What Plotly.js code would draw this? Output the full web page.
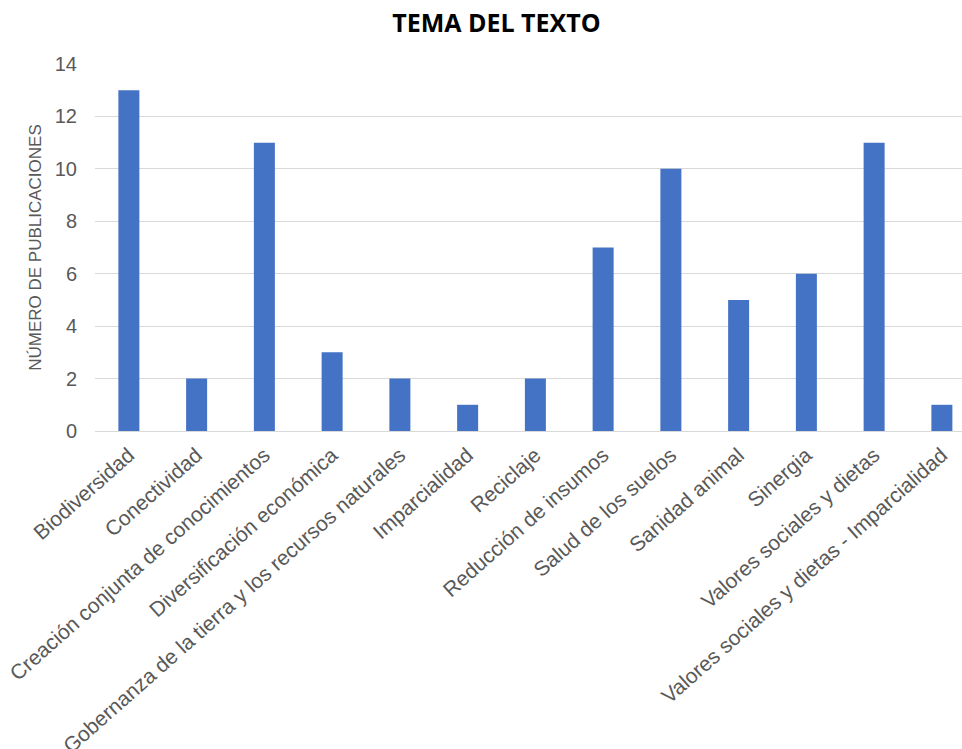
<!DOCTYPE html>
<html>
<head>
<meta charset="utf-8">
<script src="https://cdn.plot.ly/plotly-3.0.1.min.js"></script>
<style>
  html, body { margin: 0; padding: 0; background: #ffffff; }
  #chart { width: 962px; height: 749px; }
</style>
</head>
<body>
<div id="chart"></div>
<script>
// Topics of the reviewed texts and number of publications per topic
const categories = [
  "Biodiversidad",
  "Conectividad",
  "Creación conjunta de conocimientos",
  "Diversificación económica",
  "Gobernanza de la tierra y los recursos naturales",
  "Imparcialidad",
  "Reciclaje",
  "Reducción de insumos",
  "Salud de los suelos",
  "Sanidad animal",
  "Sinergia",
  "Valores sociales y dietas",
  "Valores sociales y dietas - Imparcialidad"
];
const publications = [13, 2, 11, 3, 2, 1, 2, 7, 10, 5, 6, 11, 1];
const yTicks = [0, 2, 4, 6, 8, 10, 12, 14];

const gray = "#595959";
const sans = "Liberation Sans, Arial, sans-serif";

const trace = {
  type: "bar",
  x: categories,
  y: publications,
  marker: { color: "#4472C4" },
  hoverinfo: "x+y"
};

const layout = {
  width: 962,
  height: 749,
  margin: { l: 95, r: 0, t: 64, b: 318 },
  paper_bgcolor: "#ffffff",
  plot_bgcolor: "#ffffff",
  showlegend: false,
  bargap: 0.69,
  title: {
    text: "<b>TEMA DEL TEXTO</b>",
    font: { family: "Open Sans, sans-serif", size: 25, color: "#000000" },
    x: 0.516,
    xanchor: "center",
    y: 0.969,
    yanchor: "middle"
  },
  xaxis: {
    type: "category",
    range: [-0.5, 12.297],
    tickangle: -41.5,
    tickfont: { family: sans, size: 21, color: gray },
    ticklabelstandoff: 7,
    showgrid: false,
    showline: false,
    zeroline: false,
    ticks: "",
    fixedrange: true
  },
  yaxis: {
    range: [0, 14],
    tickvals: yTicks,
    ticktext: yTicks.map(String),
    tickfont: { family: sans, size: 20, color: gray },
    ticklabelstandoff: 17,
    showgrid: true,
    gridcolor: "#d9d9d9",
    gridwidth: 1,
    zeroline: true,
    zerolinecolor: "#d9d9d9",
    zerolinewidth: 1,
    showline: false,
    ticks: "",
    title: {
      text: "NÚMERO DE PUBLICACIONES",
      font: { family: sans, size: 17, color: gray },
      standoff: 8
    },
    fixedrange: true
  }
};

Plotly.newPlot("chart", [trace], layout, { displayModeBar: false, staticPlot: true });
</script>
</body>
</html>
